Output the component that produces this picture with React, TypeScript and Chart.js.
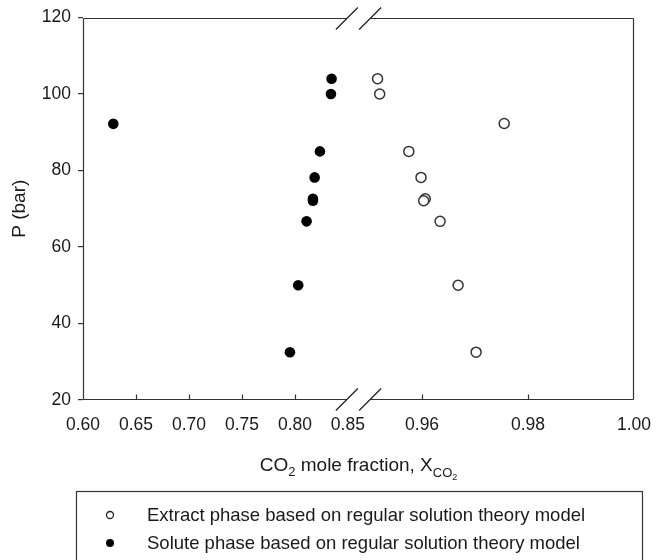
import React, { useEffect, useRef } from "react";
import { Chart, registerables } from "chart.js";

Chart.register(...registerables);

// ---- data ----
const extractX = [0.9516, 0.952, 0.9755, 0.9575, 0.9598, 0.9606, 0.9603, 0.9634, 0.9668, 0.9702];
const extractP = [104, 100, 92.3, 85, 78.2, 72.6, 72.1, 66.7, 50, 32.5];
const soluteX = [0.8346, 0.834, 0.6286, 0.8236, 0.8186, 0.817, 0.817, 0.811, 0.8031, 0.7953];
const soluteP = [104, 100, 92.2, 85, 78.2, 72.6, 72.1, 66.7, 50, 32.5];

const leftTicks = [0.6, 0.65, 0.7, 0.75, 0.8, 0.85];
const rightTicks = [0.96, 0.98, 1.0];
const yTicks = [20, 40, 60, 80, 100, 120];

const seriesLabels = [
  "Extract phase based on regular solution theory model",
  "Solute phase based on regular solution theory model",
];

// ---- broken x axis: left part 1:1, right part stretched ----
const RIGHT_ORIGIN = 0.96;
const RIGHT_AXIS = 0.92;
const RIGHT_STRETCH = 5;
const BREAK_A = 0.849;
const BREAK_B = 0.871;

const toAxis = (x: number) => (x <= 0.9 ? x : RIGHT_AXIS + (x - RIGHT_ORIGIN) * RIGHT_STRETCH);
const fromAxis = (u: number) => (u <= 0.86 ? u : RIGHT_ORIGIN + (u - RIGHT_AXIS) / RIGHT_STRETCH);

const FONT = "'Liberation Sans', Arial, sans-serif";
const AXIS_COLOR = "#333";
const TEXT_COLOR = "#1a1a1a";

const decorPlugin = {
  id: "decor",
  afterDraw(chart: any) {
    const { ctx, chartArea: a, scales } = chart;
    const xs = scales.x;
    const L = Math.round(a.left) + 0.5;
    const R = Math.round(a.right) - 0.5;
    const T = Math.round(a.top) + 0.5;
    const B = Math.round(a.bottom) - 0.5;
    const ga = xs.getPixelForValue(BREAK_A);
    const gb = xs.getPixelForValue(BREAK_B);

    ctx.save();
    ctx.strokeStyle = AXIS_COLOR;
    ctx.lineWidth = 1.2;
    ctx.beginPath();
    ctx.moveTo(L, T);
    ctx.lineTo(L, B);
    ctx.moveTo(R, T);
    ctx.lineTo(R, B);
    ctx.moveTo(L, T);
    ctx.lineTo(ga, T);
    ctx.moveTo(gb, T);
    ctx.lineTo(R, T);
    ctx.moveTo(L, B);
    ctx.lineTo(ga, B);
    ctx.moveTo(gb, B);
    ctx.lineTo(R, B);
    ctx.stroke();

    // inward x ticks
    ctx.beginPath();
    [...leftTicks, ...rightTicks].forEach((v) => {
      const u = toAxis(v);
      if (u >= BREAK_A - 0.005 && u <= BREAK_B + 0.005) return;
      const px = Math.round(xs.getPixelForValue(u)) + 0.5;
      if (px <= L + 1 || px >= R - 1) return;
      ctx.moveTo(px, B);
      ctx.lineTo(px, B - 5);
    });
    ctx.stroke();

    // break slashes
    ctx.strokeStyle = "#222";
    ctx.lineWidth = 1.3;
    ctx.beginPath();
    [T, B].forEach((yy) => {
      [ga, gb].forEach((xc) => {
        ctx.moveTo(xc - 11, yy + 11);
        ctx.lineTo(xc + 11, yy - 11);
      });
    });
    ctx.stroke();

    // x axis title with subscripts
    const big = 19;
    const sub = 13;
    const subsub = 9;
    const parts: [string, number, number][] = [
      ["CO", big, 0],
      ["2", sub, 5],
      [" mole fraction, X", big, 0],
      ["CO", sub, 6],
      ["2", subsub, 9],
    ];
    let total = 0;
    parts.forEach(([t, s]) => {
      ctx.font = `${s}px ${FONT}`;
      total += ctx.measureText(t).width;
    });
    let x = (a.left + a.right) / 2 - total / 2;
    const baseY = 471;
    ctx.fillStyle = TEXT_COLOR;
    ctx.textBaseline = "alphabetic";
    ctx.textAlign = "left";
    parts.forEach(([t, s, dy]) => {
      ctx.font = `${s}px ${FONT}`;
      ctx.fillText(t, x, baseY + dy);
      x += ctx.measureText(t).width;
    });

    // legend box
    ctx.strokeStyle = AXIS_COLOR;
    ctx.lineWidth = 1.2;
    ctx.strokeRect(76.5, 491.5, 566, 100);
    ctx.font = `18.5px ${FONT}`;
    ctx.textBaseline = "middle";
    const rows = [515, 543];
    chart.data.datasets.forEach((ds: any, i: number) => {
      const cy = rows[i];
      ctx.beginPath();
      if (i === 0) {
        ctx.arc(110, cy, 3.5, 0, Math.PI * 2);
        ctx.fillStyle = "#fff";
        ctx.fill();
        ctx.lineWidth = 1.3;
        ctx.strokeStyle = "#222";
        ctx.stroke();
      } else {
        ctx.arc(110, cy, 4, 0, Math.PI * 2);
        ctx.fillStyle = "#000";
        ctx.fill();
      }
      ctx.fillStyle = TEXT_COLOR;
      ctx.fillText(ds.label, 147, cy + 1);
    });
    ctx.restore();
  },
};

export default function App() {
  const ref = useRef<HTMLCanvasElement | null>(null);

  useEffect(() => {
    if (!ref.current) return;
    const chart = new Chart(ref.current, {
      type: "scatter",
      data: {
        datasets: [
          {
            label: seriesLabels[0],
            data: extractX.map((x, i) => ({ x: toAxis(x), y: extractP[i] })),
            pointRadius: 5,
            pointBorderWidth: 1.5,
            pointBackgroundColor: "#fff",
            pointBorderColor: "#333",
          },
          {
            label: seriesLabels[1],
            data: soluteX.map((x, i) => ({ x: toAxis(x), y: soluteP[i] })),
            pointRadius: 5.3,
            pointBorderWidth: 0,
            pointBackgroundColor: "#000",
            pointBorderColor: "#000",
          },
        ],
      },
      options: {
        animation: false,
        responsive: false,
        devicePixelRatio: 1,
        layout: { padding: { left: 0, right: 35, top: 17, bottom: 0 } },
        plugins: {
          legend: { display: false },
          tooltip: { enabled: false },
        },
        scales: {
          x: {
            type: "linear",
            min: 0.6,
            max: 1.12,
            afterBuildTicks: (scale: any) => {
              scale.ticks = [...leftTicks, ...rightTicks].map((v) => ({ value: toAxis(v) }));
            },
            afterFit: (scale: any) => {
              scale.height = 160;
            },
            ticks: {
              autoSkip: false,
              maxRotation: 0,
              padding: 15,
              color: TEXT_COLOR,
              font: { family: FONT, size: 17.5 },
              callback: (value: any) => fromAxis(Number(value)).toFixed(2),
            },
            grid: { display: false, drawTicks: false },
            border: { display: false },
          },
          y: {
            type: "linear",
            min: 20,
            max: 120,
            afterBuildTicks: (scale: any) => {
              scale.ticks = yTicks.map((v) => ({ value: v }));
            },
            afterFit: (scale: any) => {
              scale.width = 83;
            },
            ticks: {
              padding: 7,
              color: TEXT_COLOR,
              font: { family: FONT, size: 17.5 },
            },
            grid: {
              display: true,
              drawOnChartArea: false,
              drawTicks: true,
              tickLength: 5,
              color: AXIS_COLOR,
              lineWidth: 1.2,
            },
            border: { display: false },
            title: {
              display: true,
              text: "P (bar)",
              color: TEXT_COLOR,
              font: { family: FONT, size: 19 },
              padding: { top: 8, bottom: 0 },
            },
          },
        },
      },
      plugins: [decorPlugin],
    } as any);
    return () => chart.destroy();
  }, []);

  return (
    <div style={{ position: "fixed", left: 0, top: 0, width: 669, height: 560, background: "#fff" }}>
      <canvas ref={ref} width={669} height={560} style={{ width: 669, height: 560, display: "block" }} />
    </div>
  );
}
